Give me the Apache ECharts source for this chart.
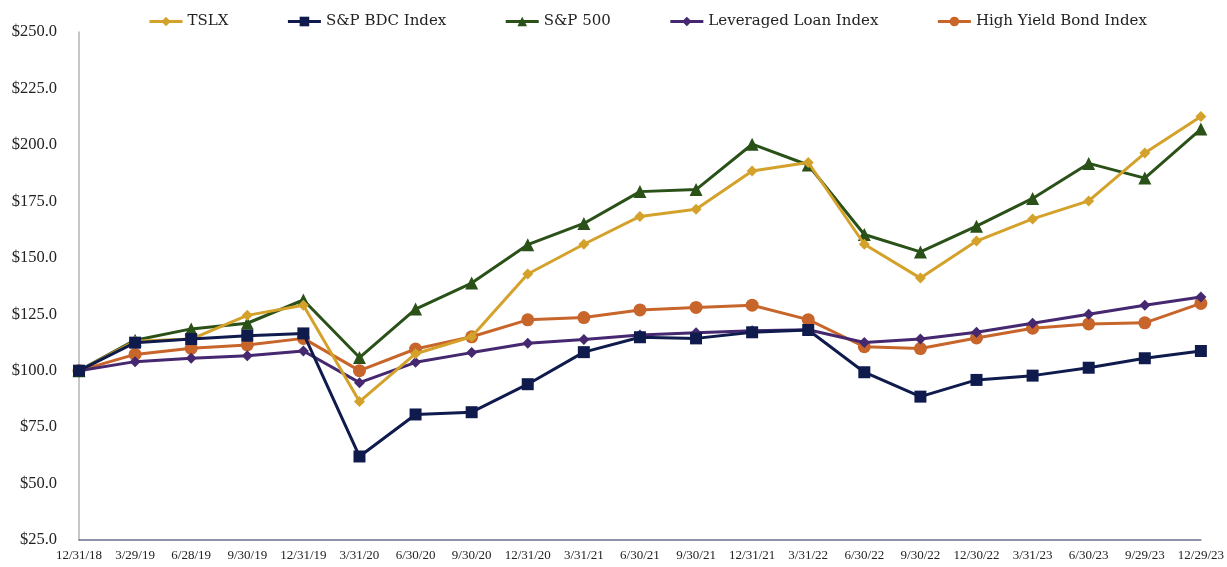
<!DOCTYPE html>
<html><head><meta charset="utf-8">
<script src="https://cdn.jsdelivr.net/npm/echarts@6/dist/echarts.min.js"></script>
<style>html,body{margin:0;padding:0;background:#fff}#c{width:1227px;height:567px}</style>
</head><body><div id="c"></div>
<script>
const categories = ['12/31/18','3/29/19','6/28/19','9/30/19','12/31/19','3/31/20','6/30/20','9/30/20','12/31/20','3/31/21','6/30/21','9/30/21','12/31/21','3/31/22','6/30/22','9/30/22','12/30/22','3/31/23','6/30/23','9/29/23','12/29/23'];
const tslx =   [100,113,114,124.5,129,86.3,107.5,115,142.8,156,168.3,171.5,188.4,192.2,156,141,157.4,167.2,175.2,196.4,212.6];
const bdc =    [100,112.4,114,115.5,116.5,62,80.6,81.6,94,108.2,114.8,114.3,117,118,99.3,88.5,95.9,97.8,101.3,105.5,108.7];
const sp500 =  [100,113.5,118.5,121,131.3,105.8,127.3,138.8,155.8,165.2,179.3,180.2,200.3,191.1,160.3,152.6,164,176.3,191.8,185.3,207];
const lli =    [100,104,105.5,106.6,108.7,94.7,103.7,108,112.1,113.8,115.8,116.8,117.7,118.1,112.5,114,117,121,125,129,132.6];
const hy =     [100,107.2,109.9,111.4,114.3,100,109.6,115,122.5,123.5,126.9,128,129,122.6,110.6,109.8,114.5,118.8,120.7,121.2,129.8];
const yTicks = [25,250,25];

const names = ['TSLX','S&P BDC Index','S&P 500','Leveraged Loan Index','High Yield Bond Index'];
const colors = ['#D4A22B','#0F1B4C','#2A5118','#45286F','#C7652B'];
const symbols = ['diamond','rect','triangle','diamond','circle'];
const sizes = [11,12,13,11,13];
const datas = [tslx,bdc,sp500,lli,hy];
const font = '"DejaVu Serif","Liberation Serif",serif';

const chart = echarts.init(document.getElementById('c'));
chart.setOption({
  animation:false,
  backgroundColor:'#fff',
  legend:{
    top:9,left:143,itemWidth:33,itemHeight:12,itemGap:58,
    lineStyle:{width:3},
    textStyle:{fontFamily:font,fontSize:15,color:'#222'},
    data:names
  },
  grid:{left:79,right:26,top:32,bottom:27,containLabel:false},
  xAxis:{
    type:'category',data:categories,boundaryGap:false,
    axisLine:{lineStyle:{color:'#6a6f8f',width:1.5}},
    axisTick:{show:false},
    axisLabel:{fontFamily:'"Liberation Serif",serif',fontSize:13,color:'#222',margin:9,interval:0}
  },
  yAxis:{
    type:'value',min:yTicks[0],max:yTicks[1],interval:yTicks[2],
    axisLine:{show:true,lineStyle:{color:'#b5b5b5',width:1.5}},
    axisTick:{show:false},
    splitLine:{show:false},
    axisLabel:{fontFamily:'"Liberation Serif",serif',fontSize:16.5,color:'#222',margin:22,formatter:v=>'$'+v.toFixed(1)}
  },
  series:names.map((n,i)=>({
    name:n,type:'line',data:datas[i],
    symbol:symbols[i],symbolSize:sizes[i],
    lineStyle:{color:colors[i],width:3},
    itemStyle:{color:colors[i]},
    z:[5,6,4,3,2][i]
  }))
});
</script></body></html>
